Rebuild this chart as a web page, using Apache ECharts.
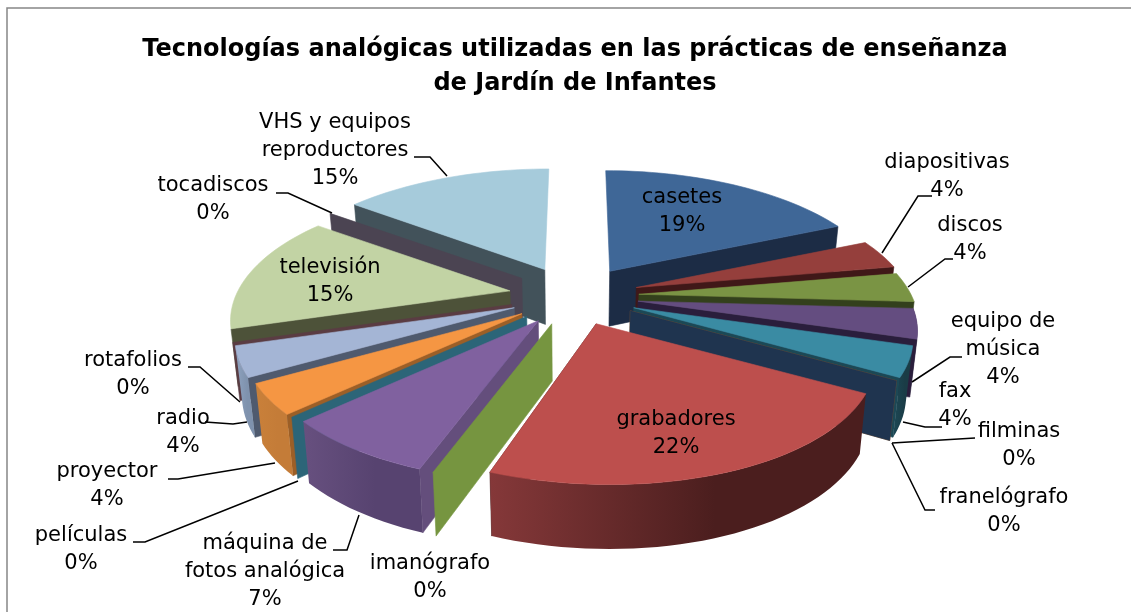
<!DOCTYPE html>
<html><head><meta charset="utf-8">
<script src="https://cdn.jsdelivr.net/npm/echarts@6/dist/echarts.min.js"></script>
<style>html,body{margin:0;padding:0;background:#fff}#c{width:1131px;height:612px}</style>
</head><body><div id="c"></div>
<script>
const titleLines = ['Tecnologías analógicas utilizadas en las prácticas de enseñanza','de Jardín de Infantes'];
const categories = ['casetes','diapositivas','discos','equipo de\nmúsica','fax','filminas','franelógrafo','grabadores','imanógrafo','máquina de\nfotos analógica','películas','proyector','radio','rotafolios','televisión','tocadiscos','VHS y equipos\nreproductores'];
const counts = [5,1,1,1,1,0,0,6,0,2,0,1,1,0,4,0,4];

// styles
const topColors  = ['#3f6797','#953f3c','#7a9444','#644d80','#3a8ba3','#a35c20','#1f344f','#bd4f4d','#769540','#80619f','#2c6578','#f59643','#a4b5d5','#5a3c43','#c2d3a4','#4b4452','#a6cbdb'];
const sideColors = ['#1c2c45','#401818','#33401c','#2a1e3c','#1c4855','#a35c20','#1f344f','#4a1f1f','#769540','#644e7c','#2c6578','#9c5f27','#4f5a6e','#5a3c43','#4d5239','#4b4452','#42525a'];
const rimLeft    = ['#1c2c45','#401818','#33401c','#2a1e3c','#1c4855','#a35c20','#1f344f','#853839','#769540','#67507f','#2c6578','#c9803a','#8fa3c0','#5a3c43','#7d8a66','#4b4452','#6f8894'];
const rimRight   = ['#1c2c45','#401818','#33401c','#2a1e3c','#1a3c46','#a35c20','#1f344f','#4b1e1e','#769540','#574370','#2c6578','#c47c38','#7f92ad','#5a3c43','#7d8a66','#4b4452','#6f8894'];
// perspective lean of each wedge's outer edge
const rimSkew    = [-4,0,0,0,0,0,0,14,0,0,0,0,0,0,0,0,4];
// label layout: centre x, first-line centre y
const labelX = [682,947,970,1003,955,1019,1004,676,430,265,81,107,183,133,330,213,335];
const labelY = [197,162,225,321,391,431,497,419,563,543,535,471,418,360,267,185,122];
const leaders = [
 [[414,157],[430,157],[447,176]],
 [[276,193],[288,193],[332,213]],
 [[932,196],[918,196],[882,253]],
 [[953,259],[945,259],[908,287]],
 [[962,357],[950,357],[912,382]],
 [[942,427],[925,427],[903,422]],
 [[975,438],[892,443]],
 [[935,510],[925,510],[892,443]],
 [[333,550],[347,550],[359,515]],
 [[133,542],[145,542],[298,481]],
 [[168,479],[178,479],[275,463]],
 [[205,422],[233,424],[247,422]],
 [[188,367],[200,367],[240,402]]
];
const view = {cx:574, cy:296, R:272, q:0.455, p:0.23, explode:65, depth:56, shrink:0.979, grow:0.045};

const total = counts.reduce((a,b)=>a+b,0);
const rad = d => d*Math.PI/180;
let cum = 0;
const slices = counts.map((c,i)=>{
  const s = -90 + cum/total*360; cum += c;
  const e = -90 + cum/total*360;
  return {i, s, e, m:(s+e)/2, zero:c===0};
});
function apex(m){
  return [view.cx+view.explode*Math.cos(rad(m)), view.cy+view.explode*view.q*Math.sin(rad(m))];
}
function rim(a, phi, i){
  const sn=Math.sin(rad(phi)), r=view.R/(1-view.p*sn);
  return [a[0]+r*Math.cos(rad(phi))+rimSkew[i]*sn*sn, a[1]+r*view.q*sn];
}
function low(pt){
  return [view.cx+(pt[0]-view.cx)*view.shrink, pt[1]+view.depth+(pt[1]-view.cy)*view.grow];
}
const order = slices.slice().sort((a,b)=>Math.sin(rad(a.m))-Math.sin(rad(b.m)));

function poly(points, fill){
  return {type:'polygon', shape:{points}, style:{fill, stroke:typeof fill==='string'?fill:null, lineWidth:typeof fill==='string'?0.6:0}};
}
function wall(a, phi, i){
  const r=rim(a,phi,i);
  return poly([a,r,low(r),low(a)],sideColors[i]);
}
function renderSlice(params, api){
  const sl = order[api.value(0)];
  const a = apex(sl.m), kids=[];
  if(sl.zero){
    kids.push(wall(a,sl.s,sl.i));
    return {type:'group',children:kids};
  }
  const right = Math.cos(rad(sl.m))>0;
  kids.push(wall(a,right?sl.e:sl.s,sl.i));
  // outer wall, sampled on the front half of wedges that face the viewer
  const front=[]; const N=Math.max(8,Math.ceil((sl.e-sl.s)/2));
  if(Math.sin(rad(sl.m))>0){
    for(let k=0;k<=N;k++){
      const phi=sl.s+(sl.e-sl.s)*k/N;
      if(Math.sin(rad(phi))>=-0.02) front.push(rim(a,phi,sl.i));
    }
  }
  if(front.length>1){
    const pts=front.concat(front.map(low).reverse());
    kids.push(poly(pts,new echarts.graphic.LinearGradient(0,0,1,0,[{offset:0,color:rimLeft[sl.i]},{offset:0.6,color:rimRight[sl.i]},{offset:1,color:rimRight[sl.i]}])));
  }
  const top=[a]; for(let k=0;k<=N;k++) top.push(rim(a,sl.s+(sl.e-sl.s)*k/N,sl.i));
  kids.push(poly(top,topColors[sl.i]));
  return {type:'group',children:kids};
}

const font='"DejaVu Sans"';
const gfx=[{type:'rect',shape:{x:7,y:8,width:1140,height:640},style:{fill:'none',stroke:'#868686',lineWidth:1.5},z:0}];
leaders.forEach(l=>gfx.push({type:'polyline',shape:{points:l},style:{fill:'none',stroke:'#000',lineWidth:1.5},z:5}));
categories.forEach((name,i)=>{
  const lines=name.split('\n').concat(Math.round(counts[i]/total*100)+'%');
  lines.forEach((t,k)=>gfx.push({type:'text',x:labelX[i],y:labelY[i]+1+k*28,z:6,
    style:{text:t,fill:'#000',font:'21px '+font,textAlign:'center',textVerticalAlign:'middle'}}));
});
titleLines.forEach((t,k)=>gfx.push({type:'text',x:575,y:50+k*34,z:6,
  style:{text:t,fill:'#000',font:'bold 24px '+font,textAlign:'center',textVerticalAlign:'middle'}}));

const chart=echarts.init(document.getElementById('c'),null,{renderer:'canvas'});
chart.setOption({
  animation:false,
  backgroundColor:'#fff',
  series:[{type:'custom',coordinateSystem:'none',renderItem:renderSlice,data:order.map((o,k)=>[k]),silent:true,z:2}],
  graphic:gfx
});
</script></body></html>
